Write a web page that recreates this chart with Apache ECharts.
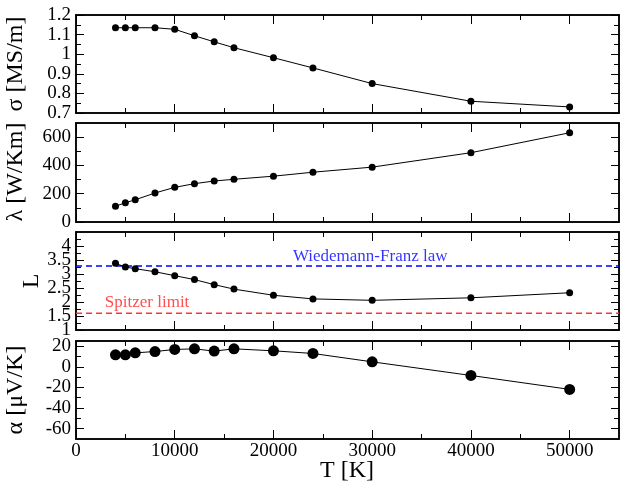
<!DOCTYPE html>
<html><head><meta charset="utf-8">
<script src="https://cdn.jsdelivr.net/npm/echarts@6/dist/echarts.min.js"></script>
<style>html,body{margin:0;padding:0;background:#fff}#c{width:622px;height:484px}</style>
</head><body><div id="c"></div>
<script>
// ---- data ----
const temperature = [4000, 5000, 6000, 8000, 10000, 12000, 14000, 16000, 20000, 24000, 30000, 40000, 50000];
const sigma  = [1.135, 1.135, 1.135, 1.135, 1.127, 1.094, 1.063, 1.033, 0.982, 0.930, 0.850, 0.760, 0.731];
const lambda = [112, 136, 157, 205, 245, 271, 290, 302, 324, 352, 388, 490, 631];
const lorenz = [3.38, 3.25, 3.19, 3.08, 2.94, 2.80, 2.62, 2.46, 2.24, 2.11, 2.06, 2.15, 2.33];
const alpha  = [11.6, 11.6, 13.5, 14.8, 16.8, 17.4, 15.2, 17.4, 15.5, 12.9, 4.8, -8.4, -21.9];
const wiedemannFranz = 3.29;
const spitzerLimit = 1.6;

const xTicks = [0, 10000, 20000, 30000, 40000, 50000];
const xMinor = [5000, 15000, 25000, 35000, 45000];
const sigmaTicks = [0.7, 0.8, 0.9, 1, 1.1, 1.2];
const sigmaMinor = [0.75, 0.85, 0.95, 1.05, 1.15];
const lambdaTicks = [0, 200, 400, 600];
const lambdaMinor = [100, 300, 500];
const lorenzTicks = [1, 1.5, 2, 2.5, 3, 3.5, 4];
const lorenzMinor = [1.25, 1.75, 2.25, 2.75, 3.25, 3.75, 4.25];
const lorenzLabelsWhole = [1, 2, 3, 4];
const lorenzLabelsHalf = [1.5, 2.5, 3.5];
const alphaTicks = [-60, -40, -20, 0, 20];
const alphaMinor = [-50, -30, -10, 10];

// ---- layout ----
const FONT = 'Liberation Serif';
const grids = [
  {left: 76, width: 543, top: 15, height: 98},
  {left: 76, width: 543, top: 123, height: 99},
  {left: 76, width: 543, top: 232, height: 98},
  {left: 76, width: 543, top: 341, height: 98}
];
const panels = [
  {min: 0.7, max: 1.2, ticks: sigmaTicks, minor: sigmaMinor, labA: sigmaTicks, labB: [], data: sigma, size: 7},
  {min: 0, max: 700, ticks: lambdaTicks, minor: lambdaMinor, labA: lambdaTicks, labB: [], data: lambda, size: 7},
  {min: 1, max: 4.5, ticks: lorenzTicks, minor: lorenzMinor, labA: lorenzLabelsWhole, labB: lorenzLabelsHalf, data: lorenz, size: 7},
  {min: -70, max: 25, ticks: alphaTicks, minor: alphaMinor, labA: alphaTicks, labB: [], data: alpha, size: 11}
];

const xAxis = [], yAxis = [], series = [];
const lineBase = {show: true, onZero: false, lineStyle: {color: '#000', width: 1.5}};
const labelBase = {color: '#000', fontFamily: FONT, fontSize: 19, margin: 5, interval: 0,
  hideOverlap: false, showMinLabel: true, showMaxLabel: true, formatter: v => String(v)};
const refIdx = [];
panels.forEach((p, i) => {
  const xi = xAxis.length;
  [['bottom', xTicks, 9, i === 3], ['bottom', xMinor, 5, false], ['top', xTicks, 9, false], ['top', xMinor, 5, false]]
  .forEach(([pos, vals, len, lab]) => {
    xAxis.push({
      gridIndex: i, type: 'value', position: pos, min: 0, max: 55000,
      axisLine: lineBase,
      axisTick: {show: true, inside: true, length: len, customValues: vals, lineStyle: {color: '#000', width: 1}},
      axisLabel: Object.assign({show: lab, customValues: xTicks}, labelBase, {margin: 3}),
      splitLine: {show: false}
    });
  });
  const yi = yAxis.length;
  [['left', p.ticks, 8, p.labA], ['left', p.minor, 5, p.labB], ['right', p.ticks, 8, []], ['right', p.minor, 5, []]]
  .forEach(([pos, vals, len, labs]) => {
    yAxis.push({
      gridIndex: i, type: 'value', position: pos, min: p.min, max: p.max,
      axisLine: lineBase,
      axisTick: {show: true, inside: true, length: len, customValues: vals, lineStyle: {color: '#000', width: 1}},
      axisLabel: Object.assign({show: labs.length > 0, customValues: labs.length ? labs : p.ticks}, labelBase),
      splitLine: {show: false}
    });
  });
  refIdx.push([xi, yi]);
  series.push({
    type: 'line', xAxisIndex: xi, yAxisIndex: yi,
    data: temperature.map((t, k) => [t, p.data[k]]),
    symbol: 'circle', symbolSize: p.size, showSymbol: true,
    itemStyle: {color: '#000'}, lineStyle: {color: '#000', width: 1}, z: 5
  });
});

// reference lines in panel 3
const [lx, ly] = refIdx[2];
series.push({
  type: 'line', xAxisIndex: lx, yAxisIndex: ly, symbol: 'none',
  data: [[0, wiedemannFranz], [55000, wiedemannFranz]],
  lineStyle: {color: '#0000ff', width: 1.5, type: [6, 4]}, z: 3
});
series.push({
  type: 'line', xAxisIndex: lx, yAxisIndex: ly, symbol: 'none',
  data: [[0, spitzerLimit], [55000, spitzerLimit]],
  lineStyle: {color: '#ff3333', width: 1.5, type: [6, 4]}, z: 3
});
series.push({
  type: 'scatter', xAxisIndex: lx, yAxisIndex: ly, symbolSize: 1,
  itemStyle: {color: 'rgba(0,0,0,0)'},
  data: [[29800, 3.64]],
  label: {show: true, position: 'inside', formatter: 'Wiedemann-Franz law', color: '#0000ff', fontFamily: FONT, fontSize: 17}
});
series.push({
  type: 'scatter', xAxisIndex: lx, yAxisIndex: ly, symbolSize: 1,
  itemStyle: {color: 'rgba(0,0,0,0)'},
  data: [[7200, 1.98]],
  label: {show: true, position: 'inside', formatter: 'Spitzer limit', color: '#ff2222', fontFamily: FONT, fontSize: 17}
});

const titleStyle = (text) => ({text, font: '24px "Liberation Serif"', fill: '#000', textAlign: 'center', textVerticalAlign: 'middle'});
const graphic = [
  {type: 'text', x: 16, y: 64, rotation: Math.PI / 2, style: titleStyle('σ [MS/m]')},
  {type: 'text', x: 16, y: 172, rotation: Math.PI / 2, style: titleStyle('λ [W/Km]')},
  {type: 'text', x: 32, y: 281, rotation: Math.PI / 2, style: titleStyle('L')},
  {type: 'text', x: 16, y: 390, rotation: Math.PI / 2, style: titleStyle('α [μV/K]')},
  {type: 'text', x: 347, y: 471, style: titleStyle('T [K]')}
];

const chart = echarts.init(document.getElementById('c'), null, {renderer: 'canvas'});
chart.setOption({
  animation: false,
  backgroundColor: '#fff',
  grid: grids,
  xAxis, yAxis, series, graphic
});
</script>
</body></html>
